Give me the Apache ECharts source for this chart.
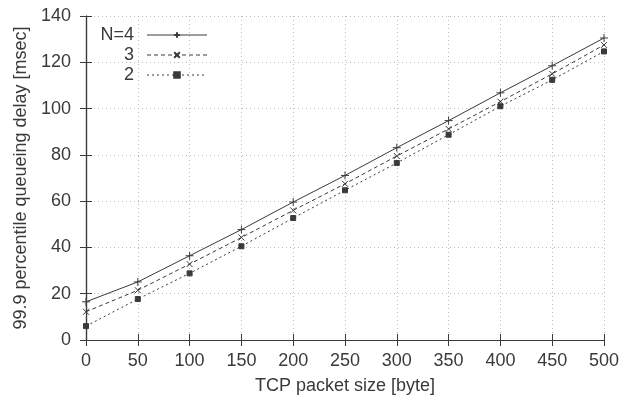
<!DOCTYPE html>
<html>
<head>
<meta charset="utf-8">
<script src="https://cdn.jsdelivr.net/npm/echarts@6/dist/echarts.min.js"></script>
<style>
  html, body { margin: 0; padding: 0; background: #fff; }
  #chart { width: 627px; height: 409px; }
</style>
</head>
<body>
<div id="chart"></div>
<script>
// packet sizes (byte)
const packetSizes = [0, 50, 100, 150, 200, 250, 300, 350, 400, 450, 500]
// 99.9 percentile delay (msec) per N
const seriesNames = ['N=4', '3', '2']
const delayN4 = [16.5, 25.1, 36.4, 47.7, 59.6, 71.1, 83.1, 94.8, 106.8, 118.5, 130.5]
const delayN3 = [12.2, 21.5, 32.8, 44.3, 56.0, 67.5, 79.5, 91.2, 103.0, 115.0, 127.5]
const delayN2 = [6.0, 17.7, 28.8, 40.5, 52.7, 64.7, 76.5, 88.7, 101.0, 112.4, 124.7]

const ink = '#3a3a3a'
const font = 'Liberation Sans, Arial, sans-serif'

const pairs = arr => packetSizes.map((x, i) => [x, arr[i]])

const plusPath = 'path://M0,5L10,5M5,0L5,10'
const crossPath = 'path://M0,0L10,10M10,0L0,10'

const chart = echarts.init(document.getElementById('chart'))

const mkSeries = (name, data, type, symbol, size) => ({
  name,
  type: 'line',
  data: pairs(data),
  symbol,
  symbolSize: size,
  showSymbol: true,
  lineStyle: { color: ink, width: 1, type },
  itemStyle: { color: ink, borderColor: ink, borderWidth: 1 },
  emphasis: { disabled: true },
  z: 3
})

const option = {
  backgroundColor: '#fff',
  animation: false,
  textStyle: { fontFamily: font },
  grid: { left: 86, right: 23, top: 16, bottom: 69 },
  legend: {
    orient: 'vertical',
    left: 89,
    top: 21,
    align: 'right',
    itemWidth: 60,
    itemHeight: 7,
    itemGap: 2,
    data: seriesNames,
    formatter: '{a|{name}}',
    lineStyle: { width: 1 },
    textStyle: {
      color: ink,
      fontSize: 18,
      fontFamily: font,
      rich: { a: { width: 40, align: 'right', fontSize: 18, lineHeight: 20, padding: [0, 8, 0, 0] } }
    }
  },
  xAxis: [
    {
      type: 'value',
      min: 0, max: 500, interval: 50,
      name: 'TCP packet size [byte]',
      nameLocation: 'middle',
      nameGap: 37,
      nameTextStyle: { color: ink, fontSize: 18, fontFamily: font },
      axisLine: { lineStyle: { color: ink, width: 1.2 } },
      axisTick: { inside: true, length: 6, lineStyle: { color: ink } },
      axisLabel: { color: ink, fontSize: 18, margin: 12, fontFamily: font },
      splitLine: { show: true, lineStyle: { color: '#bdbdbd', type: [1, 3], width: 1 } }
    },
    {
      type: 'value', position: 'top',
      min: 0, max: 500, interval: 50,
      axisLine: { show: true, lineStyle: { color: ink, width: 1.2 } },
      axisTick: { inside: true, length: 6, lineStyle: { color: ink } },
      axisLabel: { show: false },
      splitLine: { show: false }
    }
  ],
  yAxis: [
    {
      type: 'value',
      min: 0, max: 140, interval: 20,
      name: '99.9 percentile queueing delay [msec]',
      nameLocation: 'middle',
      nameGap: 56,
      nameTextStyle: { color: ink, fontSize: 18, fontFamily: font },
      axisLine: { show: true, lineStyle: { color: ink, width: 1.2 } },
      axisTick: { show: true, inside: true, length: 6, lineStyle: { color: ink } },
      axisLabel: { color: ink, fontSize: 18, margin: 15, fontFamily: font },
      splitLine: { show: true, lineStyle: { color: '#bdbdbd', type: [1, 3], width: 1 } }
    },
    {
      type: 'value', position: 'right',
      min: 0, max: 140, interval: 20,
      axisLine: { show: true, lineStyle: { color: ink, width: 1.2 } },
      axisTick: { show: true, inside: true, length: 6, lineStyle: { color: ink } },
      axisLabel: { show: false },
      splitLine: { show: false }
    }
  ],
  series: [
    mkSeries(seriesNames[0], delayN4, 'solid', plusPath, 8),
    mkSeries(seriesNames[1], delayN3, [4, 3], crossPath, 6),
    mkSeries(seriesNames[2], delayN2, [2, 3], 'rect', 5)
  ]
}

chart.setOption(option)
</script>
</body>
</html>
